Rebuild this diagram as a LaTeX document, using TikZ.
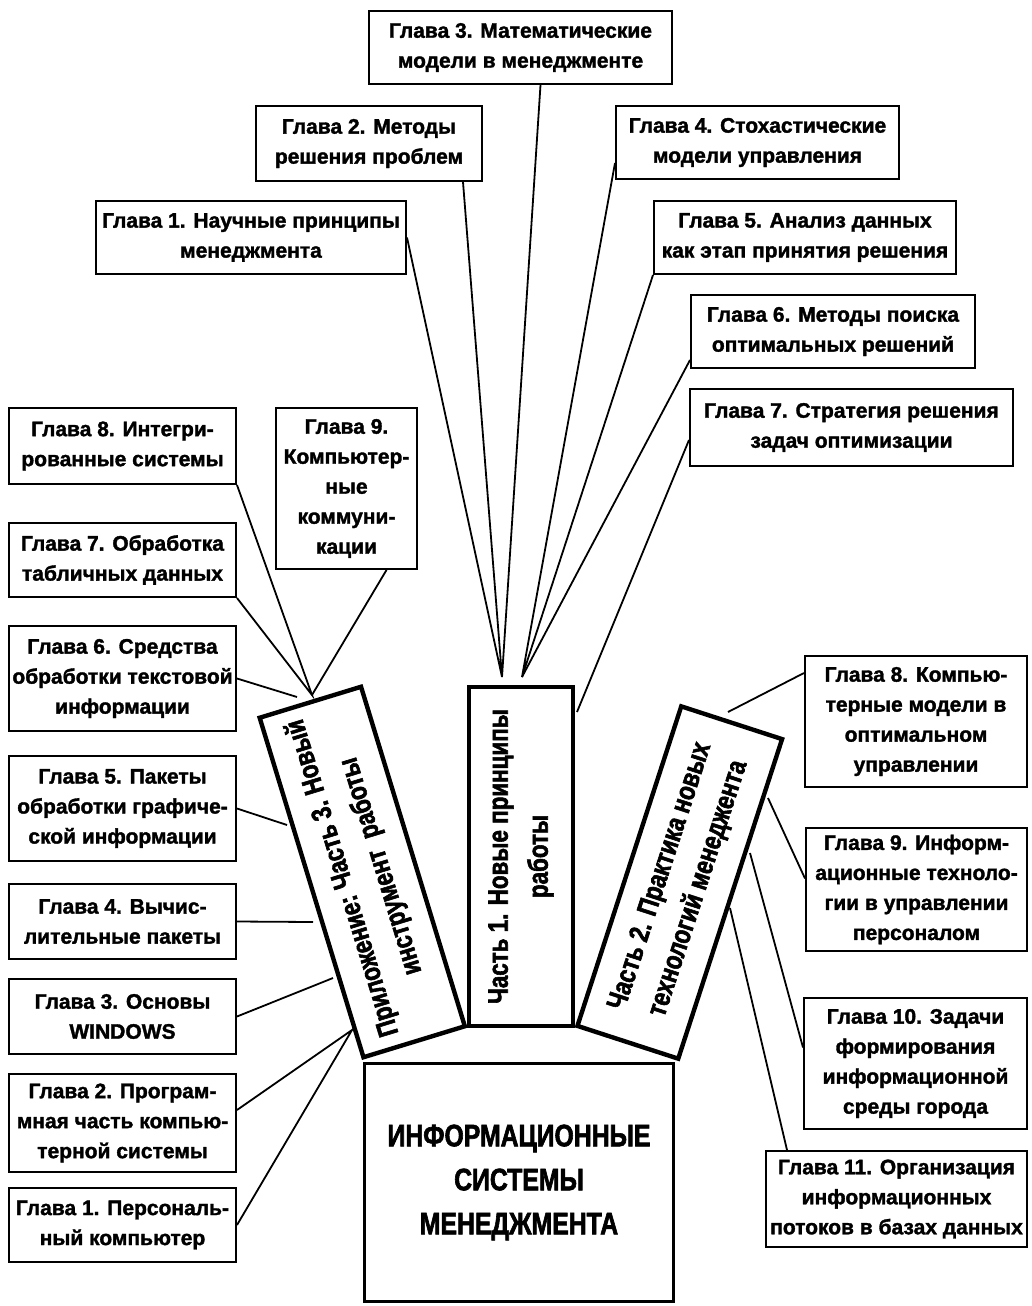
\documentclass[tikz,border=0pt]{standalone}
\usepackage{fontspec}
\setmainfont{Liberation Sans}[BoldFeatures={FakeBold=1.6}]
\newfontfamily\partfont{Liberation Sans}[FakeStretch=0.8, BoldFeatures={FakeBold=2}]
\usetikzlibrary{calc}
\newcommand{\glavabox}[6]{
	\node[glava, minimum width={(#4-#2-2)*0.5pt}, minimum height={(#5-#3-2)*0.5pt}] (#1) at ({(#2+#4)/2},{(#3+#5)/2}) {#6};
}

\begin{document}
\begin{tikzpicture}[x=0.5pt,y=-0.5pt,
	glava/.style={draw, line width=1pt, align=center, inner sep=0pt, font=\bfseries\fontsize{10.5}{15}\selectfont},
	partbox/.style={draw, line width=2.2pt, align=center, inner sep=0pt, font=\partfont\bfseries\fontsize{14}{20}\selectfont},
	conn/.style={line width=0.9pt}]
	\useasboundingbox (0,0) rectangle (1032,1306);

	% part 1
	\glavabox{tg1}{95}{200}{407}{275}{Глава 1. Научные принципы\\менеджмента}
	\glavabox{tg2}{255}{105}{483}{182}{Глава 2. Методы\\решения проблем}
	\glavabox{tg3}{368}{10}{673}{85}{Глава 3. Математические\\модели в менеджменте}
	\glavabox{tg4}{615}{105}{900}{180}{Глава 4. Стохастические\\модели управления}
	\glavabox{tg5}{653}{200}{957}{275}{Глава 5. Анализ данных\\как этап принятия решения}
	\glavabox{tg6}{690}{294}{976}{369}{Глава 6. Методы поиска\\оптимальных решений}
	\glavabox{tg7}{689}{388}{1014}{467}{Глава 7. Стратегия решения\\задач оптимизации}

	% appendix
	\glavabox{lg8}{8}{407}{237}{485}{Глава 8. Интегри-\\рованные системы}
	\glavabox{lg9}{275}{407}{418}{570}{Глава 9.\\Компьютер-\\ные\\коммуни-\\кации}
	\glavabox{lg7}{8}{522}{237}{598}{Глава 7. Обработка\\табличных данных}
	\glavabox{lg6}{8}{625}{237}{732}{Глава 6. Средства\\обработки текстовой\\информации}
	\glavabox{lg5}{8}{755}{237}{862}{Глава 5. Пакеты\\обработки графиче-\\ской информации}
	\glavabox{lg4}{8}{883}{237}{960}{Глава 4. Вычис-\\лительные пакеты}
	\glavabox{lg3}{8}{978}{237}{1055}{Глава 3. Основы\\WINDOWS}
	\glavabox{lg2}{8}{1073}{237}{1173}{Глава 2. Програм-\\мная часть компью-\\терной системы}
	\glavabox{lg1}{8}{1187}{237}{1263}{Глава 1. Персональ-\\ный компьютер}

	% part 2
	\glavabox{rg8}{804}{655}{1028}{788}{Глава 8. Компью-\\терные модели в\\оптимальном\\управлении}
	\glavabox{rg9}{805}{827}{1028}{952}{Глава 9. Информ-\\ационные техноло-\\гии в управлении\\персоналом}
	\glavabox{rg10}{803}{997}{1028}{1130}{Глава 10. Задачи\\формирования\\информационной\\среды города}
	\glavabox{rg11}{765}{1150}{1028}{1248}{Глава 11. Организация\\информационных\\потоков в базах данных}

	\node[partbox, rotate=90, minimum width=169.5pt, minimum height=52pt] (part1) at (521,856.5) {Часть 1. Новые принципы\\работы};
	\node[partbox, rotate=107, minimum width=177.5pt, minimum height=53pt] (part3) at (362.25,872) {Приложение: Часть 3. Новый\\инструмент~~работы};
	\node[partbox, rotate=72, minimum width=168pt, minimum height=53pt] (part2) at (679.75,882.5) {Часть 2. Практика новых\\технологий менеджента};
	\node[draw, line width=1.5pt, align=center, minimum width=154.5pt, minimum height=119pt, font=\partfont\bfseries\fontsize{15.5}{22}\selectfont] (ims) at (519,1182.5) {ИНФОРМАЦИОННЫЕ\\СИСТЕМЫ\\МЕНЕДЖМЕНТА};

	\coordinate (c1l) at (502,677);
	\coordinate (c1r) at (522,677);
	\coordinate (c1e) at (577,712);
	\coordinate (c3t) at (312,695);
	\coordinate (c3a) at (297,697);
	\coordinate (c3b) at (287,825);
	\coordinate (c3c) at (313,922);
	\coordinate (c3d) at (333,978);
	\coordinate (c3e) at (352,1030);
	\coordinate (c2a) at (728,712);
	\coordinate (c2b) at (768,798);
	\coordinate (c2c) at (750,853);
	\coordinate (c2d) at (730,908);

	\draw[conn] (tg1.east) -- (c1l) -- ($(tg2.south east)+(-20,0)$);
	\draw[conn] (c1l) -- ($(tg3.south)+(20,0)$);
	\draw[conn] ($(tg4.south west)+(0,-17)$) -- (c1r) -- (tg5.south west);
	\draw[conn] (c1r) -- ($(tg6.south west)+(0,-9)$);
	\draw[conn] ($(tg7.south west)+(0,-27)$) -- (c1e);

	\draw[conn] (lg8.south east) -- (c3t) -- (lg7.south east);
	\draw[conn] (c3t) -- ($(lg9.south)+(40,0)$);
	\draw[conn] (lg6.east) -- (c3a);
	\draw[conn] (lg5.east) -- (c3b);
	\draw[conn] (lg4.east) -- (c3c);
	\draw[conn] (lg3.east) -- (c3d);
	\draw[conn] ($(lg2.east)+(0,-13)$) -- (c3e) -- (lg1.east);

	\draw[conn] ($(rg8.north west)+(0,18)$) -- (c2a);
	\draw[conn] ($(rg9.west)+(0,-11)$) -- (c2b);
	\draw[conn] ($(rg10.west)+(0,-16)$) -- (c2c);
	\draw[conn] ($(rg11.north west)+(22,0)$) -- (c2d);
\end{tikzpicture}
\end{document}
